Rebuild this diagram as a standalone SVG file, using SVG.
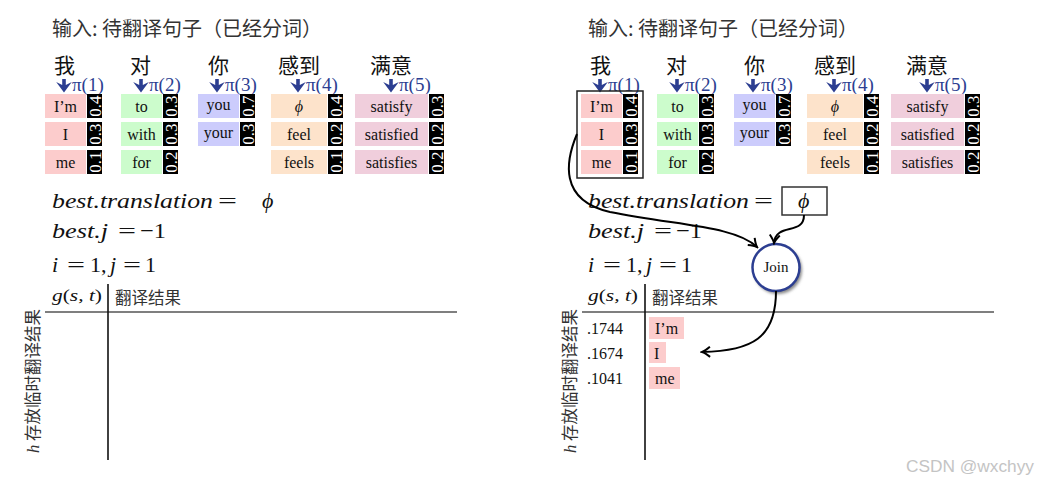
<svg xmlns="http://www.w3.org/2000/svg" width="1039" height="485" viewBox="0 0 1039 485">
<style>
.title{font-family:"Noto Sans CJK SC","Noto Sans",sans-serif;font-size:20px;fill:#333}
.zh{font-family:"Noto Sans CJK SC","Noto Sans",sans-serif;font-size:21px;fill:#111}
.zhs{font-family:"Noto Sans CJK SC","Noto Sans",sans-serif;font-size:16.5px;fill:#333}
.pi{font-family:"Liberation Serif","Noto Sans CJK SC",serif;font-size:19px;fill:#2c3e91}
.arw{fill:#2c3e91}
.w{font-family:"Liberation Serif",serif;font-size:16px;fill:#111;text-anchor:middle}
.wl{font-family:"Liberation Serif",serif;font-size:16px;fill:#111}
.n{font-family:"Liberation Serif",serif;font-size:17px;fill:#fff;text-anchor:middle;dominant-baseline:central}
.m{font-family:"Liberation Serif","DejaVu Serif",serif;font-size:22px;fill:#111;font-style:italic}
.mu{font-style:normal}
.g{font-family:"Liberation Serif",serif;font-size:17px;fill:#111;font-style:italic}
.blk{fill:#000}
.c1{fill:#fccccc}.c2{fill:#ccfccc}.c3{fill:#ccccfc}.c4{fill:#fde3cb}.c5{fill:#f0cedc}
.ln{stroke:#333;stroke-width:1.6;fill:none}
.cv{stroke:#000;stroke-width:2;fill:none;marker-end:url(#ah)}
</style>
<defs>
<marker id="ah" markerUnits="userSpaceOnUse" viewBox="-9 -6 11 12" refX="0" refY="0" markerWidth="11" markerHeight="12" orient="auto">
<path d="M-8,-5 Q-3,-1 0,0 Q-3,1 -8,5" fill="none" stroke="#000" stroke-width="2"/>
</marker>
<filter id="sh" x="-30%" y="-30%" width="170%" height="170%">
<feGaussianBlur stdDeviation="1.6"/>
</filter>
<g id="cells">
<g id="col1">
<rect class="c1" x="45" y="94" width="41" height="24"/><rect class="blk" x="87" y="94" width="15" height="24"/>
<rect class="c1" x="45" y="122" width="41" height="24"/><rect class="blk" x="87" y="122" width="15" height="24"/>
<rect class="c1" x="45" y="150" width="41" height="24"/><rect class="blk" x="87" y="150" width="15" height="24"/>
<text class="w" x="65.5" y="112">I’m</text><text class="w" x="65.5" y="140">I</text><text class="w" x="65.5" y="168">me</text>
<text class="n" transform="translate(95,106) rotate(-90)">0.4</text>
<text class="n" transform="translate(95,134) rotate(-90)">0.3</text>
<text class="n" transform="translate(95,162) rotate(-90)">0.1</text>
</g>
<g id="col2">
<rect class="c2" x="121" y="94" width="41" height="24"/><rect class="blk" x="163" y="94" width="15" height="24"/>
<rect class="c2" x="121" y="122" width="41" height="24"/><rect class="blk" x="163" y="122" width="15" height="24"/>
<rect class="c2" x="121" y="150" width="41" height="24"/><rect class="blk" x="163" y="150" width="15" height="24"/>
<text class="w" x="141.5" y="112">to</text><text class="w" x="141.5" y="140">with</text><text class="w" x="141.5" y="168">for</text>
<text class="n" transform="translate(171,106) rotate(-90)">0.3</text>
<text class="n" transform="translate(171,134) rotate(-90)">0.3</text>
<text class="n" transform="translate(171,162) rotate(-90)">0.2</text>
</g>
<g id="col3">
<rect class="c3" x="198" y="94" width="41" height="24"/><rect class="blk" x="240" y="94" width="15" height="24"/>
<rect class="c3" x="198" y="122" width="41" height="24"/><rect class="blk" x="240" y="122" width="15" height="24"/>
<text class="w" x="218.5" y="110">you</text><text class="w" x="218.5" y="138">your</text>
<text class="n" transform="translate(248,106) rotate(-90)">0.7</text>
<text class="n" transform="translate(248,134) rotate(-90)">0.3</text>
</g>
<g id="col4">
<rect class="c4" x="271" y="94" width="56" height="24"/><rect class="blk" x="328" y="94" width="15" height="24"/>
<rect class="c4" x="271" y="122" width="56" height="24"/><rect class="blk" x="328" y="122" width="15" height="24"/>
<rect class="c4" x="271" y="150" width="56" height="24"/><rect class="blk" x="328" y="150" width="15" height="24"/>
<text class="w" x="299" y="112" style="font-style:italic">ϕ</text><text class="w" x="299" y="140">feel</text><text class="w" x="299" y="168">feels</text>
<text class="n" transform="translate(336,106) rotate(-90)">0.4</text>
<text class="n" transform="translate(336,134) rotate(-90)">0.2</text>
<text class="n" transform="translate(336,162) rotate(-90)">0.1</text>
</g>
<g id="col5">
<rect class="c5" x="355" y="94" width="73" height="24"/><rect class="blk" x="429" y="94" width="15" height="24"/>
<rect class="c5" x="355" y="122" width="73" height="24"/><rect class="blk" x="429" y="122" width="15" height="24"/>
<rect class="c5" x="355" y="150" width="73" height="24"/><rect class="blk" x="429" y="150" width="15" height="24"/>
<text class="w" x="391.5" y="112">satisfy</text><text class="w" x="391.5" y="140">satisfied</text><text class="w" x="391.5" y="168">satisfies</text>
<text class="n" transform="translate(437,106) rotate(-90)">0.3</text>
<text class="n" transform="translate(437,134) rotate(-90)">0.2</text>
<text class="n" transform="translate(437,162) rotate(-90)">0.2</text>
</g>
</g>
<g id="heads">
<text class="title" x="52" y="36">输入: 待翻译句子（已经分词）</text>
<text class="zh" x="54" y="73">我</text>
<text class="zh" x="130" y="73">对</text>
<text class="zh" x="208" y="73">你</text>
<text class="zh" x="278" y="73">感到</text>
<text class="zh" x="370" y="73">满意</text>
<path class="arw" d="M62.2,79h3.6v6l6,-3l-7.8,10.5l-7.8,-10.5l6,3z"/><text class="pi" x="72" y="91">π(1)</text>
<path class="arw" d="M139.2,79h3.6v6l6,-3l-7.8,10.5l-7.8,-10.5l6,3z"/><text class="pi" x="149" y="91">π(2)</text>
<path class="arw" d="M215.2,79h3.6v6l6,-3l-7.8,10.5l-7.8,-10.5l6,3z"/><text class="pi" x="225" y="91">π(3)</text>
<path class="arw" d="M296.2,79h3.6v6l6,-3l-7.8,10.5l-7.8,-10.5l6,3z"/><text class="pi" x="306" y="91">π(4)</text>
<path class="arw" d="M389.2,79h3.6v6l6,-3l-7.8,10.5l-7.8,-10.5l6,3z"/><text class="pi" x="399" y="91">π(5)</text>
</g>
<g id="maths">
<text class="m" y="208"><tspan x="52" textLength="161" lengthAdjust="spacingAndGlyphs">best.translation</tspan><tspan class="mu" x="218" textLength="19" lengthAdjust="spacingAndGlyphs">=</tspan></text>
<text class="m" y="238"><tspan x="52" textLength="56" lengthAdjust="spacingAndGlyphs">best.j</tspan><tspan class="mu" x="118" textLength="18" lengthAdjust="spacingAndGlyphs">=</tspan><tspan class="mu" x="140" textLength="26" lengthAdjust="spacingAndGlyphs">−1</tspan></text>
<text class="m" y="272"><tspan x="52">i</tspan><tspan class="mu" x="67" textLength="18" lengthAdjust="spacingAndGlyphs">=</tspan><tspan class="mu" x="90">1,</tspan><tspan x="110">j</tspan><tspan class="mu" x="123" textLength="18" lengthAdjust="spacingAndGlyphs">=</tspan><tspan class="mu" x="145">1</tspan></text>
<text class="g" x="52" y="301" textLength="50" lengthAdjust="spacingAndGlyphs">g<tspan font-style="normal">(</tspan>s, t<tspan font-style="normal">)</tspan></text>
</g>
</defs>

<g id="left-panel">
<use href="#heads"/>
<use href="#cells"/>
<use href="#maths"/>
<text id="phi-left" class="m" x="262" y="208">ϕ</text>
<g id="table-left">
<line class="ln" x1="45" y1="312" x2="457" y2="312" style="stroke:#555"/>
<line class="ln" x1="108" y1="284" x2="108" y2="460" style="stroke:#111"/>
<text class="zhs" x="115" y="304">翻译结果</text>
<text class="zhs" transform="translate(39,453) rotate(-90)"><tspan font-family="Liberation Serif" font-style="italic">h</tspan> 存放临时翻译结果</text>
</g>
</g>

<g id="right-panel">
<g transform="translate(536,0)">
<use href="#heads"/>
<use href="#cells"/>
<use href="#maths"/>
</g>
<rect id="col1-box" x="577" y="91" width="66" height="87" fill="none" stroke="#222" stroke-width="1.5"/>
<g id="phi-box">
<rect x="782" y="187" width="45" height="28" fill="#fff" stroke="#333" stroke-width="1.5"/>
<text class="m" x="798" y="208">ϕ</text>
</g>
<g id="join">
<circle cx="778" cy="270" r="24" fill="#888" filter="url(#sh)"/>
<circle cx="776" cy="267.5" r="23.5" fill="#fff" stroke="#2c3e91" stroke-width="2.5"/>
<text class="w" x="776" y="272" style="font-size:15px">Join</text>
</g>
<g id="table-right">
<line class="ln" x1="582" y1="312" x2="994" y2="312" style="stroke:#555"/>
<line class="ln" x1="645" y1="284" x2="645" y2="460" style="stroke:#111"/>
<text class="zhs" x="652" y="304">翻译结果</text>
<text class="zhs" transform="translate(576,453) rotate(-90)"><tspan font-family="Liberation Serif" font-style="italic">h</tspan> 存放临时翻译结果</text>
<text class="wl" x="587" y="334">.1744</text>
<text class="wl" x="587" y="359">.1674</text>
<text class="wl" x="587" y="384">.1041</text>
<rect class="c1" x="649" y="317" width="35" height="22"/>
<rect class="c1" x="649" y="342" width="17" height="21"/>
<rect class="c1" x="649" y="367" width="31" height="22"/>
<text class="wl" x="655" y="334">I’m</text>
<text class="wl" x="654" y="359">I</text>
<text class="wl" x="655" y="384">me</text>
</g>
</g>

<g id="connectors">
<path class="cv" d="M577,134 C566,160 558,200 610,212 C680,226 735,226 757,247"/>
<path class="cv" d="M804,215 C804,236 776,222 774,243"/>
<path class="cv" d="M776,291 C776,338 752,351 702,352"/>
</g>

<text id="watermark" x="906" y="472" font-family="Liberation Sans,Arial,sans-serif" font-size="16" fill="#c4c4c4" textLength="128" lengthAdjust="spacingAndGlyphs">CSDN @wxchyy</text>
</svg>
